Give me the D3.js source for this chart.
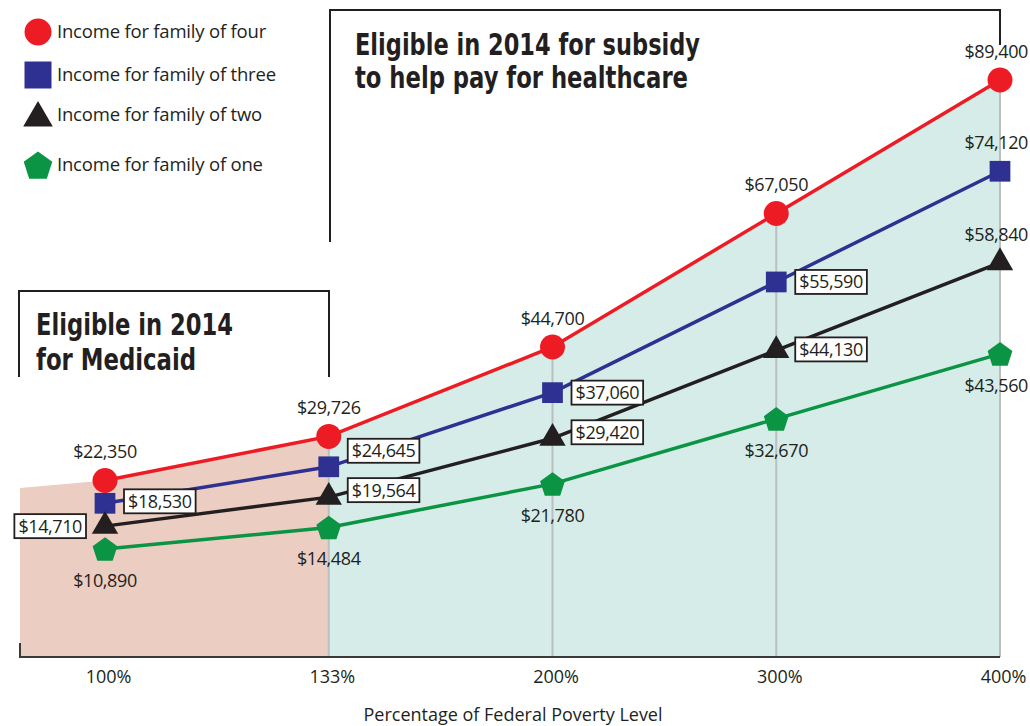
<!DOCTYPE html>
<html>
<head>
<meta charset="utf-8">
<script src="https://cdn.jsdelivr.net/npm/d3@7/dist/d3.min.js"></script>
<style>
  body { margin: 0; background: #fff; }
  svg text { font-family: "Open Sans", "Noto Sans", sans-serif; fill: #231f20; }
  .title { font-family: "Liberation Sans Narrow", "DejaVu Sans Condensed", sans-serif; font-weight: bold; }
</style>
</head>
<body>
<div id="chart"></div>
<script>
// poverty levels on the x axis
var levels = ["100%", "133%", "200%", "300%", "400%"];

// incomes per household size
var familyFour  = [22350, 29726, 44700, 67050, 89400];
var familyThree = [18530, 24645, 37060, 55590, 74120];
var familyTwo   = [14710, 19564, 29420, 44130, 58840];
var familyOne   = [10890, 14484, 21780, 32670, 43560];

var seriesNames = ["Income for family of four", "Income for family of three",
                   "Income for family of two", "Income for family of one"];

// left edge of the medicaid band (value where shading starts)
var medicaidEdgeValue = 21100;

var w = 1030, h = 726;
var svg = d3.select("#chart").append("svg").attr("width", w).attr("height", h);

var xScale = d3.scalePoint().domain(levels).range([105, 1000]);
var yScale = d3.scaleLinear().domain([-7200, 89400]).range([657, 80]);
var baseY = yScale(-7200);
var leftX = xScale(levels[0]) - xScale.step() * 0.38;

var pentagon = {
    draw: function(context, size){
        var r = Math.sqrt(size);
        for (var i = 0; i < 5; i++){
            var a = -Math.PI / 2 + i * 2 * Math.PI / 5;
            var px = r * Math.cos(a), py = r * Math.sin(a) + r * 0.1;
            if (i == 0) context.moveTo(px, py); else context.lineTo(px, py);
        }
        context.closePath();
    }
};

var series = [
    {name: seriesNames[0], values: familyFour,  color: "#ed1c24", symbol: d3.symbolCircle,   size: 490, legSize: 570,
     place: ["above", "above", "above", "above", "above"], shift: [0, 0, 0, 0, 0]},
    {name: seriesNames[1], values: familyThree, color: "#2e3192", symbol: d3.symbolSquare,   size: 430, legSize: 729,
     place: ["right", "right", "right", "right", "above"], shift: [-2, -16, 0, 0, 0]},
    {name: seriesNames[2], values: familyTwo,   color: "#231f20", symbol: d3.symbolTriangle, size: 300, legSize: 380,
     place: ["left", "right", "right", "right", "above"], shift: [0, -7, -6, -1, 0]},
    {name: seriesNames[3], values: familyOne,   color: "#0b9444", symbol: pentagon,         size: 170, legSize: 225,
     place: ["below", "below", "below", "below", "below"], shift: [0, 0, 0, 0, 0]}
];

var fmt = function(v){ return "$" + d3.format(",")(v); };

// shaded bands
var areaGen = d3.area().x(function(d){ return d[0]; }).y0(baseY).y1(function(d){ return yScale(d[1]); });

var subsidyPts = levels.slice(1).map(function(l, i){ return [xScale(l), familyFour[i + 1]]; });
svg.append("path").attr("d", areaGen(subsidyPts)).attr("fill", "#d6ece8");

var medicaidPts = [[leftX, medicaidEdgeValue], [xScale(levels[0]), familyFour[0]], [xScale(levels[1]), familyFour[1]]];
svg.append("path").attr("d", areaGen(medicaidPts)).attr("fill", "#ebcdc2");

// gray verticals
svg.append("g").selectAll("line")
    .data(levels.slice(1))
    .enter()
    .append("line")
    .attr("x1", function(d){ return xScale(d); })
    .attr("x2", function(d){ return xScale(d); })
    .attr("y1", function(d){ return yScale(familyFour[levels.indexOf(d)]); })
    .attr("y2", baseY)
    .attr("stroke", "#bcbec0")
    .attr("stroke-width", 2);

// baseline
svg.append("line").attr("x1", leftX).attr("x2", xScale(levels[4])).attr("y1", baseY).attr("y2", baseY)
    .attr("stroke", "#3a3a3a").attr("stroke-width", 2);
svg.append("line").attr("x1", leftX).attr("x2", leftX).attr("y1", baseY - 14).attr("y2", baseY + 1)
    .attr("stroke", "#3a3a3a").attr("stroke-width", 2);

var xAxis = d3.axisBottom(xScale).tickSize(0).tickPadding(13);
var axisG = svg.append("g").attr("transform", "translate(0," + baseY + ")").call(xAxis);
axisG.select(".domain").remove();
axisG.attr("font-size", null).attr("font-family", null);
axisG.selectAll("text").style("font-size", "18px").attr("fill", "#231f20").attr("dx", 3);

svg.append("text").attr("x", 513).attr("y", 721).attr("text-anchor", "middle")
    .style("font-size", "18px").text("Percentage of Federal Poverty Level");

// title boxes
var boxLine = "#231f20";
svg.append("path").attr("d", "M330,242 V10 H1000 V45").attr("fill", "none").attr("stroke", boxLine).attr("stroke-width", 2);
svg.append("path").attr("d", "M19,377 V291 H329 V377").attr("fill", "none").attr("stroke", boxLine).attr("stroke-width", 2);

svg.append("text").attr("class", "title").attr("x", 355).attr("y", 55).style("font-size", "31px")
    .attr("textLength", 345).attr("lengthAdjust", "spacingAndGlyphs").text("Eligible in 2014 for subsidy");
svg.append("text").attr("class", "title").attr("x", 355).attr("y", 88).style("font-size", "31px")
    .attr("textLength", 333).attr("lengthAdjust", "spacingAndGlyphs").text("to help pay for healthcare");
svg.append("text").attr("class", "title").attr("x", 36).attr("y", 335).style("font-size", "31px")
    .attr("textLength", 197).attr("lengthAdjust", "spacingAndGlyphs").text("Eligible in 2014");
svg.append("text").attr("class", "title").attr("x", 36).attr("y", 370).style("font-size", "31px")
    .attr("textLength", 160).attr("lengthAdjust", "spacingAndGlyphs").text("for Medicaid");

// lines, markers and labels
var lineGen = d3.line().x(function(d, i){ return xScale(levels[i]); }).y(function(d){ return yScale(d); });

series.forEach(function(s){
    var g = svg.append("g");
    g.append("path").attr("d", lineGen(s.values)).attr("fill", "none")
        .attr("stroke", s.color).attr("stroke-width", 3.5);

    g.selectAll(".mark")
        .data(s.values)
        .enter()
        .append("path")
        .attr("class", "mark")
        .attr("d", d3.symbol().type(s.symbol).size(s.size))
        .attr("transform", function(d, i){ return "translate(" + xScale(levels[i]) + "," + yScale(d) + ")"; })
        .attr("fill", s.color);
});

var labelSize = 18;
series.forEach(function(s){
    s.values.forEach(function(v, i){
        var px = xScale(levels[i]), py = yScale(v), p = s.place[i];
        if (p == "above" || p == "below"){
            var lt = svg.append("text").attr("y", p == "above" ? py - 22 : py + 38)
                .style("font-size", labelSize + "px")
                .style("letter-spacing", "-0.4px").text(fmt(v));
            var lw = lt.node().getComputedTextLength();
            // keep the right-hand labels inside the picture
            lt.attr("x", Math.min(px - lw / 2, w - 2 - lw));
        } else {
            var lg = svg.append("g");
            var t = lg.append("text").style("font-size", labelSize + "px")
                .style("letter-spacing", "-0.4px").text(fmt(v));
            var tw = t.node().getComputedTextLength();
            var bw = tw + 8, bh = 24;
            var bx = p == "right" ? px + 19 : px - 19 - bw;
            var cy = py + s.shift[i];
            lg.insert("rect", "text").attr("x", bx).attr("y", cy - bh / 2).attr("width", bw).attr("height", bh)
                .attr("fill", "#fff").attr("stroke", "#231f20").attr("stroke-width", 1.8);
            t.attr("x", bx + 4).attr("y", cy + 6.5);
        }
    });
});

// legend
var legendRows = [32, 75, 118, 165];
var legend = svg.append("g").selectAll("g")
    .data(series)
    .enter()
    .append("g")
    .attr("transform", function(d, i){ return "translate(38," + legendRows[i] + ")"; });

legend.append("path")
    .attr("d", function(d){ return d3.symbol().type(d.symbol).size(d.legSize)(); })
    .attr("fill", function(d){ return d.color; });

legend.append("text").attr("x", 19).attr("y", function(d, i){ return i == 2 ? 3 : 6; })
    .style("font-size", "18.5px").style("letter-spacing", "-0.2px")
    .text(function(d){ return d.name; });
</script>
</body>
</html>
